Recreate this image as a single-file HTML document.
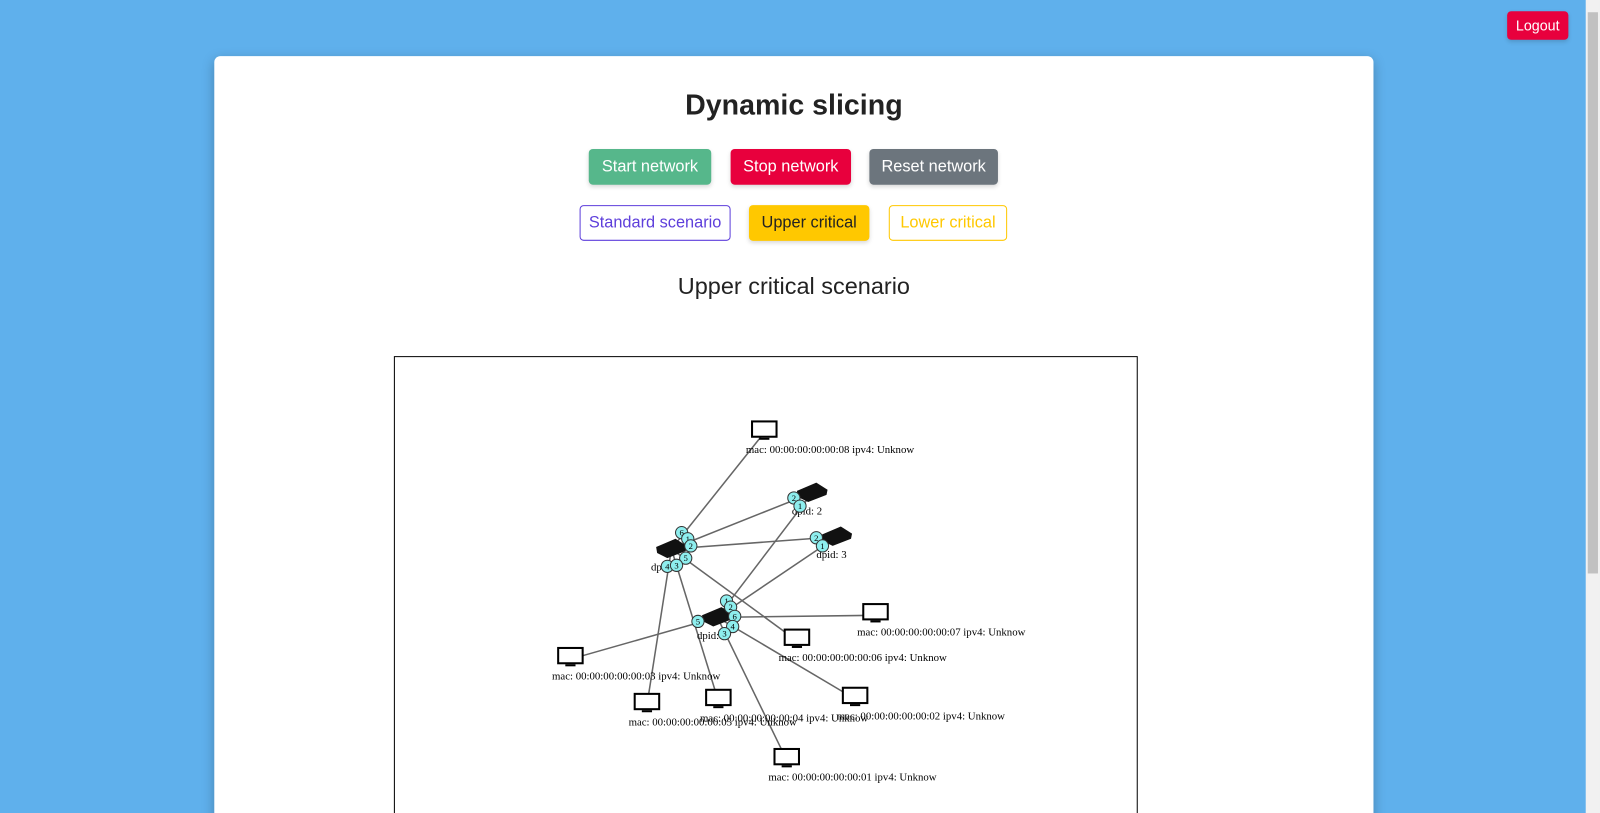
<!DOCTYPE html>
<html><head><meta charset="utf-8"><style>
html,body{margin:0;padding:0;width:1600px;height:813px;overflow:hidden;background:#5fb0ec;font-family:"Liberation Sans",sans-serif;}
#wrap{position:absolute;left:0;top:0;width:1568px;height:797px;overflow:hidden;transform:scale(1.020408);transform-origin:0 0;}
.card{position:absolute;left:210px;top:55px;width:1136px;height:760px;background:#fff;border-radius:6px 6px 0 0;box-shadow:0 4px 12px rgba(0,0,0,.25);}
.btn{position:absolute;box-sizing:border-box;border-radius:4px;font-size:16px;display:flex;align-items:center;justify-content:center;color:#fff;box-shadow:0 2px 4px rgba(0,0,0,.15);}
h1{position:absolute;left:0;width:1136px;top:32px;margin:0;text-align:center;font-size:28px;font-weight:bold;color:#222;}
h2{position:absolute;left:0;width:1136px;top:212px;margin:0;text-align:center;font-size:23px;font-weight:normal;color:#222;}
.sb{position:absolute;left:1554px;top:0;width:14px;height:797px;background:#f1f1f1;}
.th{position:absolute;left:2px;top:12px;width:10px;height:550px;background:#c1c1c1;}
</style></head><body>
<div id="wrap">
<div class="btn" style="left:1477px;top:11px;width:60px;height:28px;background:#e8003d;font-size:14px;">Logout</div>
<div class="sb"><div class="th"></div></div>
<div class="card">
<h1>Dynamic slicing</h1>
<div class="btn" style="left:367px;top:91px;width:120px;height:35px;background:#56b78b;">Start network</div>
<div class="btn" style="left:506px;top:91px;width:118px;height:35px;background:#e8003d;">Stop network</div>
<div class="btn" style="left:642px;top:91px;width:126px;height:35px;background:#6c757d;">Reset network</div>
<div class="btn" style="left:358px;top:146px;width:148px;height:35px;border:1px solid #5e3fdb;color:#5e3fdb;box-shadow:none;">Standard scenario</div>
<div class="btn" style="left:524px;top:146px;width:118px;height:35px;background:#ffc800;color:#222;">Upper critical</div>
<div class="btn" style="left:661px;top:146px;width:116px;height:35px;border:1px solid #ffc800;color:#ffc800;box-shadow:none;">Lower critical</div>
<h2>Upper critical scenario</h2>
</div>
<svg id="g" width="1540" height="797" style="position:absolute;left:0;top:0;font-family:'Liberation Serif',serif;">
<path d="M386.5 800 V349.5 H1114.5 V800" fill="none" stroke="#000" stroke-width="1"/>
</svg>
</div>
<script>
const switches=[["s1",658,538,"dpid: 1"],["s2",796,483,"dpid: 2"],["s3",820,526,"dpid: 3"],["s4",703,605,"dpid: 4"]];
const hosts=[["h8",749,421,"mac: 00:00:00:00:00:08 ipv4: Unknow"],["h7",858,600,"mac: 00:00:00:00:00:07 ipv4: Unknow"],["h6",781,625,"mac: 00:00:00:00:00:06 ipv4: Unknow"],["h3",559,643,"mac: 00:00:00:00:00:03 ipv4: Unknow"],["h5",634,688,"mac: 00:00:00:00:00:05 ipv4: Unknow"],["h4",704,684,"mac: 00:00:00:00:00:04 ipv4: Unknow"],["h2",838,682,"mac: 00:00:00:00:00:02 ipv4: Unknow"],["h1",771,742,"mac: 00:00:00:00:00:01 ipv4: Unknow"]];
const links=[["s1","h8"],["s1","s2"],["s1","s3"],["s1","h6"],["s1","h5"],["s1","h4"],["s4","s2"],["s4","s3"],["s4","h7"],["s4","h3"],["s4","h2"],["s4","h1"]];
const ports=[["s1","6",10,-16],["s1","1",16,-10],["s1","2",19,-3],["s1","5",14,9],["s1","4",-4,17],["s1","3",5,16],["s2","2",-18,5],["s2","1",-12,13],["s3","2",-20,1],["s3","1",-14,9],["s4","1",9,-16],["s4","2",13,-10],["s4","6",17,-1],["s4","4",15,9],["s4","3",7,16],["s4","5",-19,4]];
const NS="http://www.w3.org/2000/svg",svg=document.getElementById('g');
const pos={};switches.forEach(s=>pos[s[0]]=[s[1],s[2]]);hosts.forEach(h=>pos[h[0]]=[h[1],h[2]+3]);
function mk(t,a,p){const e=document.createElementNS(NS,t);for(const k in a)e.setAttribute(k,a[k]);(p||svg).appendChild(e);return e;}
links.forEach(l=>{const a=pos[l[0]],b=pos[l[1]];const e=mk('line',{x1:a[0],y1:a[1],x2:b[0],y2:b[1],stroke:'#666','stroke-width':1.5});

});
hosts.forEach(h=>{const g=mk('g',{});


mk('rect',{x:h[1]-12,y:h[2]-8,width:24,height:15,fill:'#fff',stroke:'#000','stroke-width':2},g);
mk('rect',{x:h[1]-5,y:h[2]+8,width:10,height:2,fill:'#000'},g);
const t=mk('text',{x:h[1]-18,y:h[2]+23,'font-size':10.6},g);t.textContent=h[3];});
switches.forEach(s=>{const g=mk('g',{});


mk('polygon',{points:`${s[1]-15},${s[2]-2} ${s[1]+4},${s[2]-10} ${s[1]+15},${s[2]-3} ${s[1]+14},${s[2]+2} ${s[1]-4},${s[2]+9} ${s[1]-14},${s[2]+4}`,fill:'#111'},g);
const t=mk('text',{x:s[1]-20,y:s[2]+21,'font-size':10.6},g);t.textContent=s[3];});
ports.forEach(p=>{const s=pos[p[0]];const g=mk('g',{});


mk('circle',{cx:s[0]+p[2],cy:s[1]+p[3],r:6,fill:'#8eeeee',stroke:'#333','stroke-width':1},g);
const t=mk('text',{x:s[0]+p[2],y:s[1]+p[3]+3,'font-size':8.5,'text-anchor':'middle'},g);t.textContent=p[1];});
</script>
</body></html>
